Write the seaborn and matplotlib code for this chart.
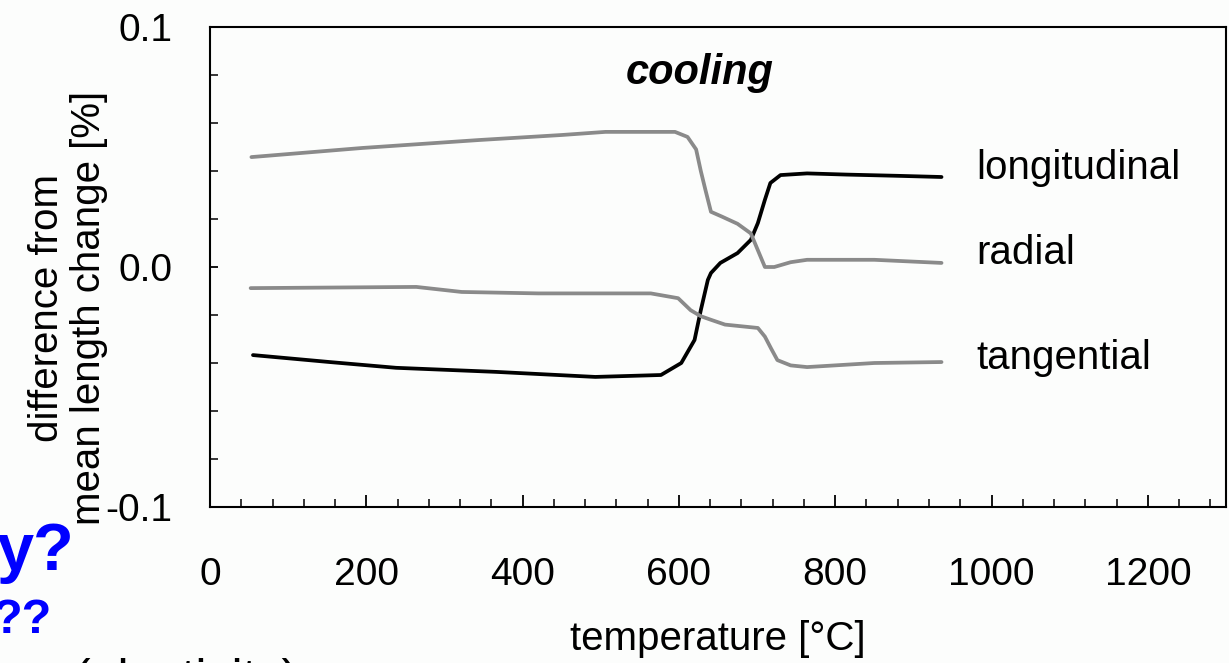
import numpy as np
import pandas as pd
import matplotlib
matplotlib.use("Agg")
import matplotlib.pyplot as plt
import seaborn as sns
from matplotlib.ticker import MultipleLocator, FixedLocator

sns.set_theme(style="white")
plt.rcParams['font.family'] = ['Liberation Sans', 'DejaVu Sans']

# ---- data ----
long_T = [55, 153, 238, 366, 493, 577, 603, 620, 628, 637, 641, 653, 675, 692,
          701, 710, 717, 730, 764, 815, 879, 936]
long_v = [-0.0367, -0.0396, -0.0420, -0.0437, -0.0458, -0.0450, -0.0400, -0.0304,
          -0.0180, -0.0054, -0.0025, 0.0017, 0.0058, 0.0113, 0.0183, 0.0280,
          0.0350, 0.0383, 0.0390, 0.0385, 0.0380, 0.0375]

radial_T = [53, 195, 344, 450, 506, 595, 611, 622, 628, 634, 641, 655, 675, 692,
            701, 710, 722, 743, 764, 850, 936]
radial_v = [0.0458, 0.0496, 0.0529, 0.0550, 0.0563, 0.0563, 0.0542, 0.0490,
            0.0400, 0.0320, 0.0230, 0.0210, 0.0180, 0.0140, 0.0070, 0.0000,
            0.0000, 0.0020, 0.0030, 0.0030, 0.0017]

tang_T = [52, 264, 322, 420, 564, 599, 615, 628, 641, 659, 701, 710, 718, 726,
          743, 764, 850, 936]
tang_v = [-0.0088, -0.0083, -0.0104, -0.0110, -0.0110, -0.0130, -0.0180, -0.0205,
          -0.0220, -0.0240, -0.0254, -0.0290, -0.0340, -0.0388, -0.0410, -0.0417,
          -0.0400, -0.0396]

series_names = ["longitudinal", "radial", "tangential"]
label_pos = {"longitudinal": (980, 0.0413), "radial": (980, 0.0058),
             "tangential": (980, -0.0380)}

x_ticks = [0, 200, 400, 600, 800, 1000, 1200]
y_ticks = [-0.1, 0.0, 0.1]
y_ticklabels = ["-0.1", "0.0", "0.1"]

# ---- figure ----
fig = plt.figure(figsize=(12.29, 6.63), dpi=100)
bg = '#fcfdfc'
fig.patch.set_facecolor(bg)
ax = fig.add_axes([210/1229, 156/663, 1016/1229, 480/663])
ax.set_facecolor(bg)

colors = {"longitudinal": "black", "radial": "#8a8a8a", "tangential": "#8a8a8a"}
data = {"longitudinal": (long_T, long_v), "radial": (radial_T, radial_v),
        "tangential": (tang_T, tang_v)}
for name in series_names:
    T, v = data[name]
    df = pd.DataFrame({"T": T, "v": v})
    sns.lineplot(data=df, x="T", y="v", ax=ax, color=colors[name], lw=2.7,
                 sort=False, estimator=None)
    lx, ly = label_pos[name]
    ax.text(lx, ly, name, fontsize=29, ha='left', va='center', color='black')

ax.text(627, 0.081, "cooling", fontsize=30, fontweight='bold', fontstyle='italic',
        ha='center', va='center', color='black')

ax.set_xlim(0, 1300)
ax.set_ylim(-0.1, 0.1)
ax.xaxis.set_major_locator(FixedLocator(x_ticks))
ax.xaxis.set_minor_locator(MultipleLocator(40))
ax.yaxis.set_major_locator(FixedLocator(y_ticks))
ax.set_yticklabels(y_ticklabels)
ax.yaxis.set_minor_locator(MultipleLocator(0.02))

for s in ax.spines.values():
    s.set_visible(True)
    s.set_color('black')
    s.set_linewidth(1.5)

ax.tick_params(axis='x', which='major', direction='in', length=9, width=1.3,
               labelsize=28, pad=36, colors='black', bottom=True, top=False)
ax.tick_params(axis='x', which='minor', direction='in', length=6, width=1.3,
               bottom=True, top=False)
ax.tick_params(axis='y', which='major', direction='in', length=6, width=1.3,
               labelsize=28, pad=27, colors='black', left=True, right=False)
ax.tick_params(axis='y', which='minor', direction='in', length=6, width=1.3,
               left=True, right=False)

ax.set_xlabel("temperature [°C]", fontsize=29, color='black')
ax.xaxis.label.set_va('top')
ax.xaxis.set_label_coords(0.5, -0.235)
ax.set_ylabel("difference from\nmean length change [%]", fontsize=29, color='black',
              linespacing=1.15)
ax.yaxis.label.set_va('center')
ax.yaxis.set_label_coords(-0.140, 0.415)

# slide remnants around the chart
fig.text(-0.003, (663 - 570)/663, "y?", fontsize=48, fontweight='bold',
         color='#0000ff', ha='left', va='baseline')
fig.text(-0.006, (663 - 633)/663, "??", fontsize=35, fontweight='bold',
         color='#0000ff', ha='left', va='baseline')
fig.text(74/1229, (663 - 694)/663, "(plasticity)", fontsize=36, color='black',
         ha='left', va='baseline')

fig.savefig("out.png", dpi=100, facecolor=bg)
